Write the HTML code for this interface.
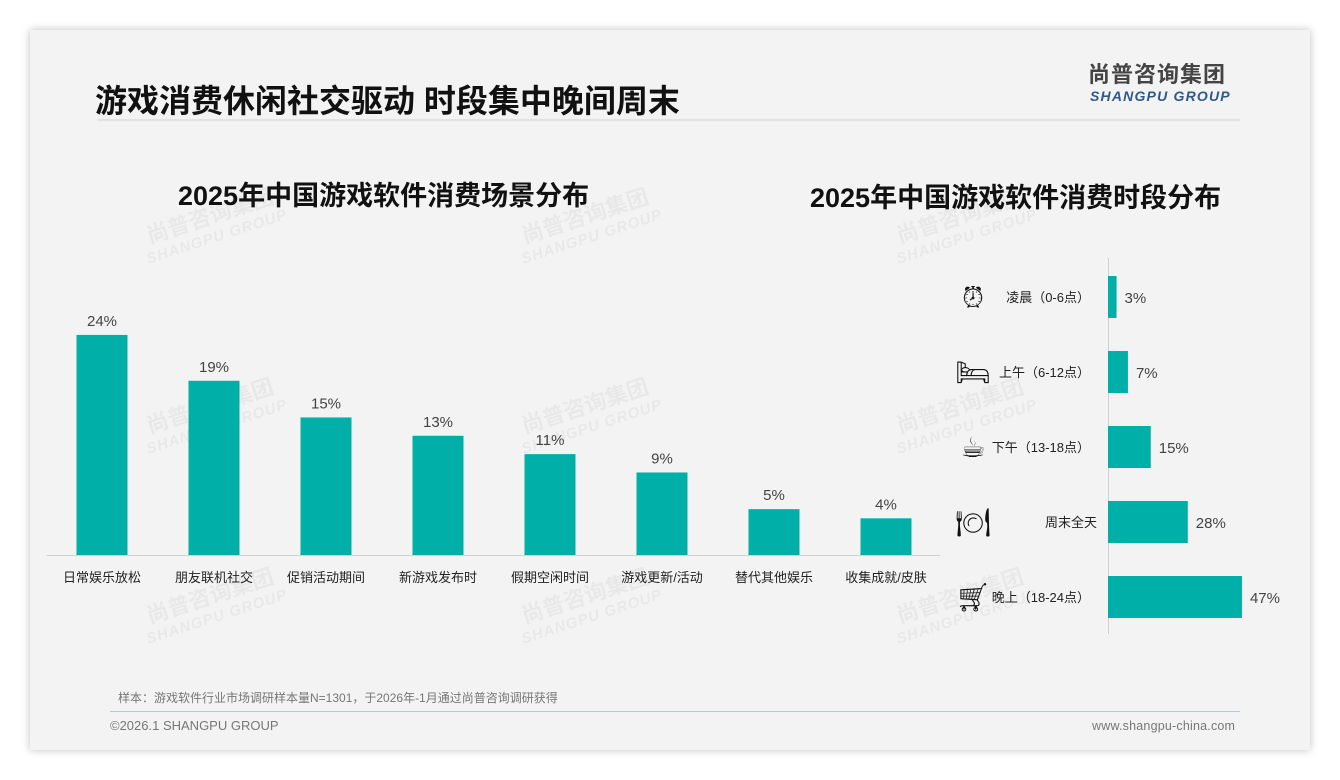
<!DOCTYPE html>
<html><head><meta charset="utf-8">
<style>
body{margin:0;width:1340px;height:780px;background:#fff;font-family:"Liberation Sans","Noto Sans CJK SC",sans-serif;position:relative;overflow:hidden}
#card{position:absolute;left:30px;top:30px;width:1280px;height:720px;background:#f3f3f3;box-shadow:0 0 8px rgba(0,0,0,0.25)}
.t{position:absolute;white-space:nowrap}
.wm{position:absolute;color:rgba(0,0,0,0.045);font-weight:bold;transform:rotate(-18deg);font-size:22px;line-height:22px;text-align:center}
.wm span{display:block;font-size:15px;font-style:italic;letter-spacing:1px}
</style></head><body>
<div id="card"></div>
<div class="t" style="left:95px;top:76px;font-size:32px;font-weight:bold;color:#111">游戏消费休闲社交驱动 时段集中晚间周末</div>
<div class="t" style="left:1088px;top:64px;font-size:22px;line-height:22px;font-weight:bold;color:#444;letter-spacing:1px">尚普咨询集团</div>
<div class="t" style="left:1090px;top:88px;font-size:14px;line-height:16px;font-weight:bold;font-style:italic;color:#2e5a85;letter-spacing:1.2px">SHANGPU GROUP</div>
<div style="position:absolute;left:97px;top:119px;width:1143px;height:2px;background:#e2e2e2"></div>
<div class="wm" style="left:140px;top:205px">尚普咨询集团<span>SHANGPU GROUP</span></div>
<div class="wm" style="left:515px;top:205px">尚普咨询集团<span>SHANGPU GROUP</span></div>
<div class="wm" style="left:890px;top:205px">尚普咨询集团<span>SHANGPU GROUP</span></div>
<div class="wm" style="left:140px;top:395px">尚普咨询集团<span>SHANGPU GROUP</span></div>
<div class="wm" style="left:515px;top:395px">尚普咨询集团<span>SHANGPU GROUP</span></div>
<div class="wm" style="left:890px;top:395px">尚普咨询集团<span>SHANGPU GROUP</span></div>
<div class="wm" style="left:140px;top:585px">尚普咨询集团<span>SHANGPU GROUP</span></div>
<div class="wm" style="left:515px;top:585px">尚普咨询集团<span>SHANGPU GROUP</span></div>
<div class="wm" style="left:890px;top:585px">尚普咨询集团<span>SHANGPU GROUP</span></div>
<div class="t" style="left:178px;top:174px;font-size:27px;font-weight:bold;color:#111">2025年中国游戏软件消费场景分布</div>
<div class="t" style="left:810px;top:176px;font-size:27px;font-weight:bold;color:#111">2025年中国游戏软件消费时段分布</div>
<svg id="chart" width="1340" height="780" style="position:absolute;left:0;top:0"></svg>
<div class="t" style="left:118px;top:689px;font-size:12px;color:#777">样本：游戏软件行业市场调研样本量N=1301，于2026年-1月通过尚普咨询调研获得</div>
<div style="position:absolute;left:110px;top:711px;width:1130px;height:1px;background:#b5c7d8"></div>
<div class="t" style="left:110px;top:718px;font-size:13px;color:#777">©2026.1 SHANGPU GROUP</div>
<div class="t" style="left:1092px;top:719px;font-size:12.5px;color:#777;letter-spacing:0.2px">www.shangpu-china.com</div>
<script>
const catsL=["日常娱乐放松","朋友联机社交","促销活动期间","新游戏发布时","假期空闲时间","游戏更新/活动","替代其他娱乐","收集成就/皮肤"];
const valsL=[24,19,15,13,11,9,5,4];
const catsR=["凌晨（0-6点）","上午（6-12点）","下午（13-18点）","周末全天","晚上（18-24点）"];
const valsR=[3,7,15,28,47];
const iconsR=["⏰\uFE0E","🛏\uFE0E","☕\uFE0E","🍽\uFE0E","🛒\uFE0E"];
const NS="http://www.w3.org/2000/svg",svg=document.getElementById("chart"),C="#00b0a8";
function mk(t,a,txt){const e=document.createElementNS(NS,t);for(const k in a)e.setAttribute(k,a[k]);if(txt!=null)e.textContent=txt;svg.appendChild(e);return e;}
const base=555,yL=v=>base-v*9.17,xL=i=>102+i*112,bw=51;
let ax=mk("line",{x1:47,x2:940,y1:base+0.5,y2:base+0.5,stroke:"#d0d0d0"});


valsL.forEach((v,i)=>{
 const r=mk("rect",{x:xL(i)-bw/2,y:yL(v),width:bw,height:base-yL(v),fill:C});
 
 
 const l=mk("text",{x:xL(i),y:yL(v)-9,"text-anchor":"middle","font-size":15,fill:"#444"},v+"%");
 
 
 const c=mk("text",{x:xL(i),y:582,"text-anchor":"middle","font-size":13,fill:"#222"},catsL[i]);
 
 
});
const x0=1108,xR=v=>x0+v*2.85,yR=i=>297+i*75,bh=42;
let ay=mk("line",{x1:x0+0.5,x2:x0+0.5,y1:258,y2:634,stroke:"#d0d0d0"});


valsR.forEach((v,i)=>{
 const r=mk("rect",{x:x0,y:yR(i)-bh/2,width:xR(v)-x0,height:bh,fill:C});
 
 
 const l=mk("text",{x:xR(v)+8,y:yR(i)+6,"text-anchor":"start","font-size":15,fill:"#444"},v+"%");
 
 
 const c=mk("text",{x:i==3?1097:1090,y:yR(i)+5,"text-anchor":"end","font-size":13,fill:"#222"},catsR[i]);
 
 
 const ic=mk("text",{x:973,y:yR(i)+10,"text-anchor":"middle","font-size":28,fill:"#111","font-family":"DejaVu Sans, sans-serif"},iconsR[i]);
 
 
});
</script>
</body></html>
